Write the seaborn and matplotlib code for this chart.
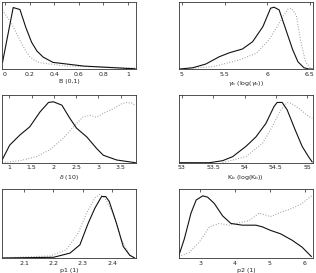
import numpy as np
import pandas as pd
import seaborn as sns
import matplotlib
matplotlib.use("Agg")
import matplotlib.pyplot as plt

# posterior (solid) vs prior (dotted), normalised heights
b_x_post = [-0.02, 0.067, 0.122, 0.17, 0.217, 0.26, 0.31, 0.39, 0.64, 0.99, 1.06]
b_y_post = [0.10, 0.92, 0.89, 0.62, 0.40, 0.27, 0.18, 0.10, 0.045, 0.01, 0.005]
b_x_prior = [-0.02, 0.054, 0.09, 0.122, 0.16, 0.2, 0.24, 0.285, 0.5, 0.99, 1.06]
b_y_prior = [0.88, 0.68, 0.55, 0.43, 0.30, 0.19, 0.13, 0.094, 0.045, 0.02, 0.015]

g_x_post = [4.97, 5.13, 5.28, 5.44, 5.56, 5.71, 5.83, 5.95, 6.04, 6.08, 6.14, 6.22, 6.30, 6.36, 6.43, 6.49, 6.53]
g_y_post = [0.0, 0.02, 0.075, 0.185, 0.245, 0.30, 0.41, 0.635, 0.91, 0.925, 0.885, 0.585, 0.285, 0.11, 0.02, 0.0, 0.0]
g_x_prior = [4.97, 5.36, 5.67, 5.87, 6.02, 6.14, 6.24, 6.28, 6.34, 6.39, 6.45, 6.51, 6.53]
g_y_prior = [0.0, 0.035, 0.135, 0.235, 0.435, 0.685, 0.895, 0.91, 0.81, 0.435, 0.11, 0.01, 0.0]

d_x_post = [0.84, 1.01, 1.24, 1.46, 1.69, 1.88, 1.99, 2.18, 2.36, 2.51, 2.74, 2.96, 3.11, 3.41, 3.83]
d_y_post = [0.04, 0.26, 0.41, 0.53, 0.75, 0.89, 0.90, 0.85, 0.655, 0.51, 0.38, 0.21, 0.11, 0.04, 0.0]
d_x_prior = [0.84, 1.24, 1.61, 1.91, 2.21, 2.44, 2.66, 2.81, 2.96, 3.11, 3.34, 3.52, 3.63, 3.75, 3.83]
d_y_prior = [0.0, 0.03, 0.09, 0.19, 0.36, 0.53, 0.68, 0.70, 0.67, 0.73, 0.80, 0.87, 0.89, 0.88, 0.84]

k_x_post = [52.96, 53.44, 53.65, 53.81, 54.02, 54.18, 54.34, 54.47, 54.52, 54.60, 54.68, 54.81, 54.92, 55.02, 55.08]
k_y_post = [0.0, 0.0, 0.03, 0.09, 0.24, 0.38, 0.58, 0.83, 0.89, 0.89, 0.78, 0.48, 0.24, 0.09, 0.01]
k_x_prior = [53.65, 54.02, 54.29, 54.44, 54.58, 54.68, 54.76, 54.87, 55.0, 55.08]
k_y_prior = [0.0, 0.09, 0.29, 0.53, 0.78, 0.89, 0.87, 0.80, 0.70, 0.655]

p1_x_post = [2.023, 2.20, 2.256, 2.29, 2.318, 2.341, 2.364, 2.378, 2.39, 2.415, 2.438, 2.46, 2.477]
p1_y_post = [0.0, 0.01, 0.07, 0.19, 0.50, 0.72, 0.89, 0.89, 0.82, 0.50, 0.165, 0.04, 0.0]
p1_x_prior = [2.023, 2.19, 2.244, 2.284, 2.313, 2.341, 2.358, 2.375, 2.403, 2.432, 2.46, 2.477]
p1_y_prior = [0.0, 0.03, 0.12, 0.36, 0.65, 0.87, 0.92, 0.87, 0.65, 0.26, 0.04, 0.0]

p2_x_post = [2.38, 2.54, 2.73, 2.88, 3.07, 3.21, 3.40, 3.64, 3.88, 4.21, 4.60, 4.79, 5.02, 5.31, 5.65, 5.93, 6.20]
p2_y_post = [0.035, 0.28, 0.65, 0.84, 0.90, 0.88, 0.79, 0.61, 0.50, 0.475, 0.475, 0.45, 0.40, 0.35, 0.255, 0.157, 0.02]
p2_x_prior = [2.38, 2.68, 2.97, 3.26, 3.54, 3.83, 4.12, 4.40, 4.69, 5.02, 5.36, 5.65, 5.93, 6.20]
p2_y_prior = [0.02, 0.08, 0.23, 0.45, 0.50, 0.475, 0.51, 0.54, 0.65, 0.60, 0.67, 0.72, 0.79, 0.90]

labels = ["B (0,1)", r"$\gamma_b$ (log($\gamma_b$))", r"$\delta$ (10)",
          r"K$_b$ (log(K$_b$))", "p1 (1)", "p2 (1)"]
ticks = [[0, 0.2, 0.4, 0.6, 0.8, 1], [5, 5.5, 6, 6.5], [1, 1.5, 2, 2.5, 3, 3.5],
         [53, 53.5, 54, 54.5, 55], [2.1, 2.2, 2.3, 2.4], [3, 4, 5, 6]]
xlims = [(-0.025, 1.065), (4.965, 6.535), (0.835, 3.84),
         (52.95, 55.09), (2.024, 2.481), (2.38, 6.24)]

curves = [(b_x_post, b_y_post, b_x_prior, b_y_prior),
          (g_x_post, g_y_post, g_x_prior, g_y_prior),
          (d_x_post, d_y_post, d_x_prior, d_y_prior),
          (k_x_post, k_y_post, k_x_prior, k_y_prior),
          (p1_x_post, p1_y_post, p1_x_prior, p1_y_prior),
          (p2_x_post, p2_y_post, p2_x_prior, p2_y_prior)]

sns.set_style("white")
plt.rcParams['font.family'] = ['DejaVu Sans']
plt.rcParams['mathtext.fontset'] = 'dejavusans'

fig = plt.figure(figsize=(3.16, 2.73), dpi=100)
# axes boxes in figure fractions (left, bottom, width, height)
lefts = [0.006, 0.566]
rows = [(0.747, 0.245), (0.404, 0.248), (0.055, 0.253)]

for i in range(6):
    r, c = divmod(i, 2)
    ax = fig.add_axes([lefts[c], rows[r][0], 0.424, rows[r][1]])
    xs, ys, xp, yp = curves[i]
    df_post = pd.DataFrame({"x": xs, "y": ys})
    df_prior = pd.DataFrame({"x": xp, "y": yp})
    sns.lineplot(data=df_prior, x="x", y="y", ax=ax, color="#9a9a9a",
                 linestyle=(0, (0.8, 1.6)), lw=0.8, sort=False)
    sns.lineplot(data=df_post, x="x", y="y", ax=ax, color="#111111",
                 lw=0.8, sort=False)
    ax.set_xlim(*xlims[i])
    ax.set_ylim(0, 1.0)
    ax.set_yticks([])
    ax.set_xticks(ticks[i])
    ax.set_xticklabels(["%g" % t for t in ticks[i]])
    ax.tick_params(axis="x", direction="in", top=True, length=2, width=0.5,
                   labelsize=4.5, pad=2, colors="#222222")
    ax.set_ylabel("")
    ax.set_xlabel(labels[i], fontsize=4.5, labelpad=1.5, color="#222222")
    for s in ax.spines.values():
        s.set_linewidth(0.6)
        s.set_color("#333333")

fig.savefig("out.png", dpi=100)
